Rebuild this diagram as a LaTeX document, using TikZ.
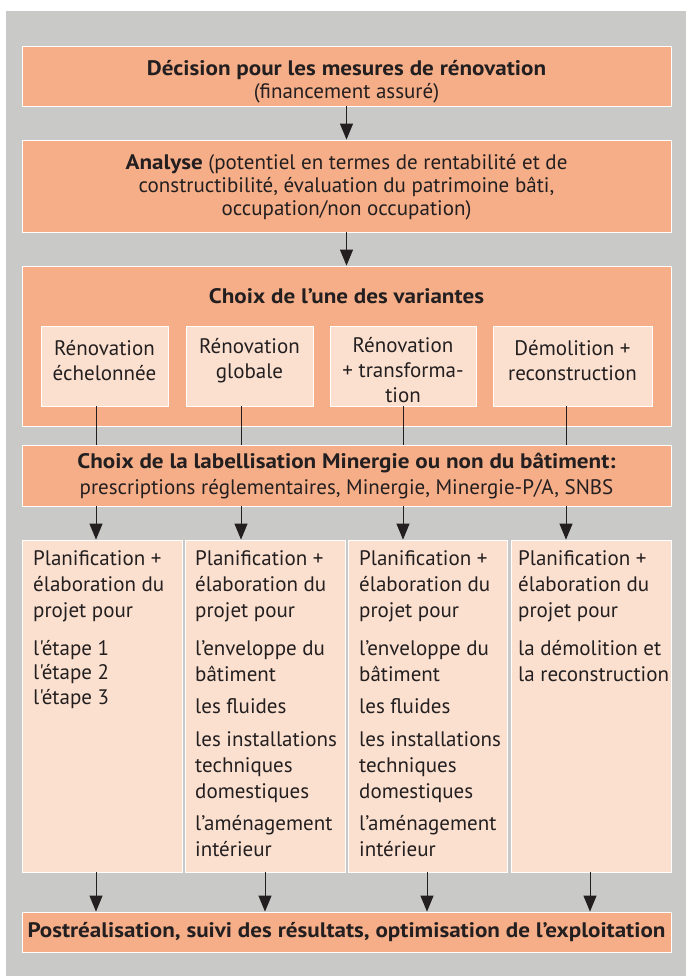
\documentclass[tikz,border=0pt]{standalone}
\usepackage{fontspec}
\setmainfont{PT Sans}[Ligatures=TeXOff, BoldFeatures={FakeStretch=1.1}]
\usetikzlibrary{arrows.meta}
\definecolor{bggray}{HTML}{C9C9C7}
\definecolor{darkbox}{HTML}{F5AE88}
\definecolor{lightbox}{HTML}{FBE0CF}
\definecolor{ink}{HTML}{231F20}
\begin{document}
\begin{tikzpicture}[x=1pt,y=-1pt,
  font=\fontsize{21}{26}\selectfont, text=ink,
  dbox/.style={draw=white, line width=0.8pt, fill=darkbox, inner sep=0pt, align=center},
  lbox/.style={draw=white, line width=0.8pt, fill=lightbox, inner sep=0pt},
  txt/.style={inner sep=0pt, align=center},
  ttxt/.style={inner sep=0pt, align=center, font=\fontsize{21}{23}\selectfont},
  vtxt/.style={inner sep=0pt, align=center, font=\fontsize{21}{25}\selectfont},
  ltxt/.style={inner sep=0pt, align=left, anchor=north west},
  arr/.style={-{Triangle[width=13pt,length=16pt]}, line width=1pt, draw=ink},
  ln/.style={line width=1pt, draw=ink}]
\useasboundingbox (0,0) rectangle (686,976);
\fill[white] (0,0) rectangle (686,976);
\fill[bggray] (6,11) rectangle (686,976);
% top boxes
\node[dbox, minimum width=649pt, minimum height=60pt] (dec) at (346.5,76) {};
\node[ttxt] (dect) at (346.5,82)
  {\textbf{Décision pour les mesures de rénovation}\\(financement assuré)};
\node[dbox, minimum width=649pt, minimum height=92pt] (ana) at (346.5,186) {};
\node[ttxt] (anat) at (346.5,187)
  {\textbf{Analyse} (potentiel en termes de rentabilité et de\\constructibilité, évaluation du patrimoine bâti,\\occupation/non occupation)};
\node[dbox, minimum width=649pt, minimum height=160pt] (var) at (346.5,346) {};
\node[txt] (vart) at (346.5,296) {\textbf{Choix de l’une des variantes}};
% variant boxes
\node[lbox, minimum width=127pt, minimum height=80pt] (v1) at (104.5,366) {};
\node[lbox, minimum width=127pt, minimum height=80pt] (v2) at (249.5,366) {};
\node[lbox, minimum width=146pt, minimum height=80pt] (v3) at (403,366) {};
\node[lbox, minimum width=159pt, minimum height=80pt] (v4) at (572.5,366) {};
\node[vtxt] (v1t) at (104.5,361) {Rénovation\\échelonnée};
\node[vtxt] (v2t) at (249.5,361) {Rénovation\\globale};
\node[vtxt] (v3t) at (403,370) {Rénovation\\+ transforma-\\tion};
\node[vtxt] (v4t) at (572.5,361) {Démolition +\\reconstruction};
% label box
\node[dbox, minimum width=649pt, minimum height=61pt] (lab) at (346.5,475.5) {};
\node[txt] (labt) at (346.5,476)
  {\textbf{Choix de la labellisation Minergie ou non du bâtiment:}\\prescriptions réglementaires, Minergie, Minergie-P/A, SNBS};
% columns
\node[lbox, minimum width=160pt, minimum height=332pt] (c1) at (102,706) {};
\node[lbox, minimum width=160pt, minimum height=332pt] (c2) at (265,706) {};
\node[lbox, minimum width=159pt, minimum height=332pt] (c3) at (427.5,706) {};
\node[lbox, minimum width=160pt, minimum height=332pt] (c4) at (591,706) {};
\node[ltxt] (c1t) at (33,550) {Planification +\\élaboration du\\projet pour\\[12pt]l'étape 1\\[-1.5pt]l'étape 2\\[-1.5pt]l'étape 3};
\node[ltxt] (c2t) at (195,550) {Planification +\\élaboration du\\projet pour\\[12pt]l’enveloppe du\\bâtiment\\[6pt]les fluides\\[7pt]les installations\\techniques\\domestiques\\[6pt]l’aménagement\\intérieur};
\node[ltxt] (c3t) at (359,550) {Planification +\\élaboration du\\projet pour\\[12pt]l’enveloppe du\\bâtiment\\[6pt]les fluides\\[7pt]les installations\\techniques\\domestiques\\[6pt]l’aménagement\\intérieur};
\node[ltxt] (c4t) at (518,550) {Planification +\\élaboration du\\projet pour\\[12pt]la démolition et\\la reconstruction};
% bottom
\node[dbox, minimum width=649pt, minimum height=40pt] (post) at (346.5,932)
  {\textbf{Postréalisation, suivi des résultats, optimisation de l’exploitation}};
% connector x positions
\coordinate (xa) at (96,0);
\coordinate (xb) at (241,0);
\coordinate (xc) at (403,0);
\coordinate (xd) at (566,0);
\coordinate (xe) at (265,0);
\coordinate (xf) at (427,0);
\coordinate (xg) at (590,0);
\draw[arr] (dec) -- (ana);
\draw[arr] (ana) -- (var);
\draw[ln] (v1.south -| xa) -- (lab.north -| xa);
\draw[ln] (v2.south -| xb) -- (lab.north -| xb);
\draw[ln] (v3.south -| xc) -- (lab.north -| xc);
\draw[ln] (v4.south -| xd) -- (lab.north -| xd);
\draw[arr] (lab.south -| xa) -- (c1.north -| xa);
\draw[arr] (lab.south -| xb) -- (c2.north -| xb);
\draw[arr] (lab.south -| xc) -- (c3.north -| xc);
\draw[arr] (lab.south -| xd) -- (c4.north -| xd);
\draw[arr] (c1.south -| xa) -- (post.north -| xa);
\draw[arr] (c2.south -| xe) -- (post.north -| xe);
\draw[arr] (c3.south -| xf) -- (post.north -| xf);
\draw[arr] (c4.south -| xg) -- (post.north -| xg);
\end{tikzpicture}
\end{document}
